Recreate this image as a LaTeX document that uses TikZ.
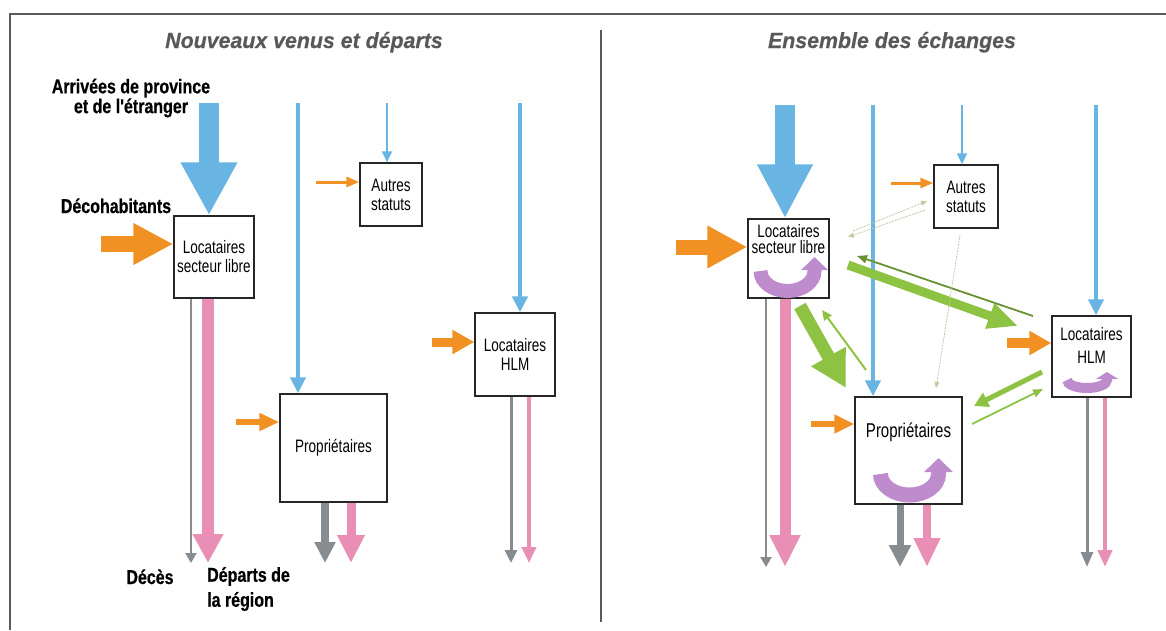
\documentclass[tikz,border=0pt]{standalone}
\usepackage{fontspec}
\setmainfont{Liberation Sans}
\newfontfamily\fontcase[FakeStretch=0.75]{Liberation Sans}
\newfontfamily\fontlegende[FakeStretch=0.8,FakeBold=0.6]{Liberation Sans}
\newfontfamily\fonttitre[FakeStretch=0.97,FakeBold=0.5]{Liberation Sans}
\usetikzlibrary{arrows.meta}
\definecolor{bleuflux}{RGB}{104,181,228}
\definecolor{orangeflux}{RGB}{241,145,35}
\definecolor{roseflux}{RGB}{233,142,181}
\definecolor{grisflux}{RGB}{135,140,145}
\definecolor{vertflux}{RGB}{141,194,67}
\definecolor{violetflux}{RGB}{190,140,205}
\definecolor{titregris}{RGB}{88,88,88}
\definecolor{cadre}{RGB}{90,90,90}
\tikzset{
  statut/.style 2 args={draw=black!85, line width=1.4pt, fill=white, minimum width=#1pt,
    minimum height=#2pt, inner sep=0pt, align=center, font=\fontcase\fontsize{18}{19}\selectfont},
  texte/.style={inner sep=0pt, align=center, font=\fontcase\fontsize{18}{16.5}\selectfont},
  legende/.style={inner sep=0pt, align=center, font=\fontlegende\bfseries\fontsize{20}{16.5}\selectfont},
  titre/.style={inner sep=0pt, text=titregris, font=\fonttitre\bfseries\itshape\fontsize{22}{26}\selectfont},
  flux/.style n args={4}{draw=#1, line width=#2pt, -{Triangle[width=#3pt,length=#4pt]}},
  faible/.style={draw=vertflux!50!gray!55, line width=0.8pt, dash pattern=on 2pt off 1pt,
    -{Triangle[width=5pt,length=6pt]}},
  tourne/.style n args={3}{draw=violetflux, line width=#1pt, -{Triangle[width=#2pt,length=#3pt]}}
}
\begin{document}
\begin{tikzpicture}[x=1pt, y=-1pt]
	\useasboundingbox (0,0) rectangle (1166,630);
	% cadre
	\draw[cadre, line width=1.5pt] (1166,14) -- (10,14) -- (10,630);
	\draw[cadre, line width=1.5pt] (601,30) -- (601,622);

	% ---- nouveaux venus et departs ----
	\node[titre, anchor=base] (titreg) at (304,48) {Nouveaux venus et départs};
	\node[legende] (arrivees) at (131,98) {Arrivées de province\\et de l'étranger};
	\node[legende, anchor=base] (decohab) at (116,213) {Décohabitants};
	\node[legende, anchor=base] (deces) at (150,584) {Décès};
	\node[legende, align=left, anchor=west, font=\fontlegende\bfseries\fontsize{20}{25}\selectfont] (departs) at (207,589) {Départs de\\la région};

	\node[statut={80}{82}] (lsl) at (214,257) {Locataires\\secteur libre};
	\node[statut={62}{63}] (autres) at (391,194.5) {Autres\\statuts};
	\node[statut={80}{83}] (hlm) at (515,354.5) {Locataires\\HLM};
	\node[statut={107}{108}] (prop) at (333.5,448) {Propriétaires};

	\coordinate (srcA) at (209,103);
	\coordinate (srcP) at (298,103);
	\coordinate (srcS) at (387,103);
	\coordinate (srcH) at (520,103);
	\coordinate (decoL) at (101,244);
	\coordinate (oS) at (316,182);
	\coordinate (oH) at (432,342);
	\coordinate (oP) at (236,422);
	\coordinate (dL) at (191,563);
	\coordinate (pL) at (208,563);
	\coordinate (dP) at (325,563);
	\coordinate (pP) at (351,563);
	\coordinate (dH) at (511,563);
	\coordinate (pH) at (529,563);

	\draw[flux={bleuflux}{20}{53}{53}] (srcA) -- (srcA |- lsl.north);
	\draw[flux={bleuflux}{4}{15}{16}] (srcP) -- (srcP |- prop.north);
	\draw[flux={bleuflux}{1.5}{10}{11}] (srcS) -- (srcS |- autres.north);
	\draw[flux={bleuflux}{4}{15}{16}] (srcH) -- (srcH |- hlm.north);
	\draw[flux={orangeflux}{16}{39}{40}] (decoL) -- (decoL -| lsl.west);
	\draw[flux={orangeflux}{3}{10}{13}] (oS) -- (oS -| autres.west);
	\draw[flux={orangeflux}{9}{23}{22}] (oH) -- (oH -| hlm.west);
	\draw[flux={orangeflux}{6}{17}{20}] (oP) -- (oP -| prop.west);
	\draw[flux={grisflux}{2}{11}{10}] (dL |- lsl.south) -- (dL);
	\draw[flux={roseflux}{12}{29}{29}] (pL |- lsl.south) -- (pL);
	\draw[flux={grisflux}{8}{20}{21}] (dP |- prop.south) -- (dP);
	\draw[flux={roseflux}{9}{26}{28}] (pP |- prop.south) -- (pP);
	\draw[flux={grisflux}{3}{12}{13}] (dH |- hlm.south) -- (dH);
	\draw[flux={roseflux}{4.5}{14}{16}] (pH |- hlm.south) -- (pH);

	% ---- ensemble des echanges ----
	\node[titre, anchor=base] (titred) at (892,48) {Ensemble des échanges};

	\node[statut={81}{79}] (rlsl) at (788.5,258.5) {};
	\node[statut={64}{63}] (rautres) at (966,196.5) {Autres\\statuts};
	\node[statut={79}{81}] (rhlm) at (1091.5,356.5) {};
	\node[statut={107}{107}] (rprop) at (908.5,450.5) {};
	\node[texte] (trlsl) at (788.5,239) {Locataires\\secteur libre};
	\node[texte, font=\fontcase\fontsize{18}{23}\selectfont] (trhlm) at (1091.5,345) {Locataires\\HLM};
	\node[texte, anchor=base, font=\fontcase\fontsize{20}{22}\selectfont] (trprop) at (908.5,437) {Propriétaires};

	\coordinate (rsrcA) at (785,105);
	\coordinate (rsrcP) at (873,105);
	\coordinate (rsrcS) at (962,105);
	\coordinate (rsrcH) at (1096,105);
	\coordinate (rdecoL) at (676,247);
	\coordinate (roS) at (891,183);
	\coordinate (roH) at (1007,343);
	\coordinate (roP) at (811,424);
	\coordinate (rdL) at (766,567);
	\coordinate (rpL) at (785,567);
	\coordinate (rdP) at (900,567);
	\coordinate (rpP) at (927,567);
	\coordinate (rdH) at (1087,567);
	\coordinate (rpH) at (1105,567);

	\draw[flux={bleuflux}{20}{52}{54}] (rsrcA) -- (rsrcA |- rlsl.north);
	\draw[flux={bleuflux}{4}{15}{16}] (rsrcP) -- (rsrcP |- rprop.north);
	\draw[flux={bleuflux}{1.5}{10}{11}] (rsrcS) -- (rsrcS |- rautres.north);
	\draw[flux={bleuflux}{4}{15}{16}] (rsrcH) -- (rsrcH |- rhlm.north);
	\draw[flux={orangeflux}{15}{40}{40}] (rdecoL) -- (rdecoL -| rlsl.west);
	\draw[flux={orangeflux}{3}{10}{13}] (roS) -- (roS -| rautres.west);
	\draw[flux={orangeflux}{10}{23}{22}] (roH) -- (roH -| rhlm.west);
	\draw[flux={orangeflux}{6}{18}{20}] (roP) -- (roP -| rprop.west);
	\draw[flux={grisflux}{2}{11}{10}] (rdL |- rlsl.south) -- (rdL);
	\draw[flux={roseflux}{11}{29}{32}] (rpL |- rlsl.south) -- (rpL);
	\draw[flux={grisflux}{7}{21}{22}] (rdP |- rprop.south) -- (rdP);
	\draw[flux={roseflux}{8}{25}{29}] (rpP |- rprop.south) -- (rpP);
	\draw[flux={grisflux}{3}{12}{15}] (rdH |- rhlm.south) -- (rdH);
	\draw[flux={roseflux}{4.5}{14}{17}] (rpH |- rhlm.south) -- (rpH);

	% echanges entre statuts
	\coordinate (g1a) at (848,265);
	\coordinate (g1b) at (1018,326);
	\coordinate (g2a) at (1033,316);
	\coordinate (g2b) at (857,256);
	\coordinate (g3a) at (800,306);
	\coordinate (g3b) at (846,388);
	\coordinate (g4a) at (866,370);
	\coordinate (g4b) at (822,310);
	\coordinate (g5a) at (853,231);
	\coordinate (g5b) at (927,201);
	\coordinate (g6a) at (925,210);
	\coordinate (g6b) at (848,237);
	\coordinate (g7a) at (960,235);
	\coordinate (g7b) at (936,388);
	\coordinate (g8a) at (1042,372);
	\coordinate (g8b) at (974,406);
	\coordinate (g9a) at (972,424);
	\coordinate (g9b) at (1043,389);
	\draw[flux={vertflux}{9}{25}{30}] (g1a) -- (g1b);
	\draw[flux={vertflux!75!black}{1.8}{8}{10}] (g2a) -- (g2b);
	\draw[flux={vertflux}{13}{37}{36}] (g3a) -- (g3b);
	\draw[flux={vertflux}{2}{9}{10}] (g4a) -- (g4b);
	\draw[faible] (g5a) -- (g5b);
	\draw[faible] (g6a) -- (g6b);
	\draw[faible] (g7a) -- (g7b);
	\draw[flux={vertflux}{5}{15}{14}] (g8a) -- (g8b);
	\draw[flux={vertflux}{1.8}{8}{10}] (g9a) -- (g9b);

	% mobilite interne
	\draw[tourne={14}{26}{13}] (760.5,271) arc[start angle=180, end angle=0, x radius=27, y radius=20] -- ++(0,-14);
	\draw[tourne={15}{28}{14}] (880.5,474) arc[start angle=180, end angle=0, x radius=29, y radius=21] -- ++(0,-16);
	\draw[tourne={10}{22}{7}] (1067,380) arc[start angle=180, end angle=0, x radius=20, y radius=8] -- ++(0,-8);
\end{tikzpicture}
\end{document}
